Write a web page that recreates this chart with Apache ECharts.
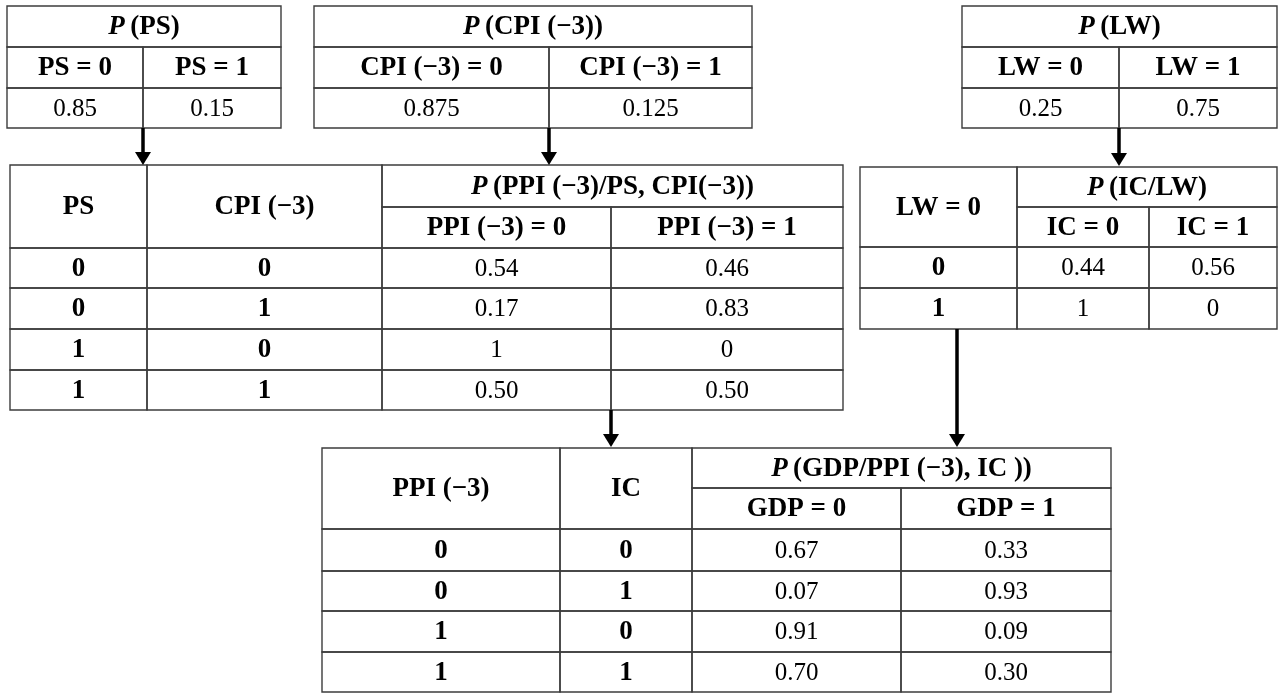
<!DOCTYPE html>
<html>
<head>
<meta charset="utf-8">
<style>
html,body{margin:0;padding:0;background:#fff;}
#chart{width:1280px;height:693px;}
</style>
<script src="https://cdn.jsdelivr.net/npm/echarts@6/dist/echarts.min.js"></script>
</head>
<body>
<div id="chart"></div>
<script>
// ---------------- DATA ----------------
const psTitle = 'PS';
const psHeader = ['PS = 0', 'PS = 1'];
const psProb = [0.85, 0.15];

const cpiTitle = 'CPI (\u22123)';
const cpiHeader = ['CPI (\u22123) = 0', 'CPI (\u22123) = 1'];
const cpiProb = [0.875, 0.125];

const lwTitle = 'LW';
const lwHeader = ['LW = 0', 'LW = 1'];
const lwProb = [0.25, 0.75];

const ppiParents = ['PS', 'CPI (\u22123)'];
const ppiTitle = 'PPI (\u22123)/PS, CPI(\u22123)';
const ppiHeader = ['PPI (\u22123) = 0', 'PPI (\u22123) = 1'];
const ppiPS = ['0', '0', '1', '1'];
const ppiCPI = ['0', '1', '0', '1'];
const ppiP0 = [0.54, 0.17, 1, 0.50];
const ppiP1 = [0.46, 0.83, 0, 0.50];

const icParents = ['LW = 0'];
const icTitle = 'IC/LW';
const icHeader = ['IC = 0', 'IC = 1'];
const icLW = ['0', '1'];
const icP0 = [0.44, 1];
const icP1 = [0.56, 0];

const gdpParents = ['PPI (\u22123)', 'IC'];
const gdpTitle = 'GDP/PPI (\u22123), IC )';
const gdpHeader = ['GDP = 0', 'GDP = 1'];
const gdpPPI = ['0', '0', '1', '1'];
const gdpIC = ['0', '1', '0', '1'];
const gdpP0 = [0.67, 0.07, 0.91, 0.70];
const gdpP1 = [0.33, 0.93, 0.09, 0.30];

// ---------------- LAYOUT ----------------
const layout = {
  ps:  { xs: [7, 143, 281],   ys: [6, 47, 88, 128] },
  cpi: { xs: [314, 549, 752], ys: [6, 47, 88, 128] },
  lw:  { xs: [962, 1119, 1277], ys: [6, 47, 88, 128] },
  ppi: { xs: [10, 147, 382, 611, 843], ys: [165, 207, 248, 288, 329, 370, 410] },
  ic:  { xs: [860, 1017, 1149, 1277], ys: [167, 207, 247, 288, 329] },
  gdp: { xs: [322, 560, 692, 901, 1111], ys: [448, 488, 529, 571, 611, 652, 692] }
};
const arrowsLayout = [
  [143, 128, 165], [549, 128, 165], [1119, 128, 166], [611, 410, 447], [957, 329, 447]
];

function fmt(v) {
  if (Number.isInteger(v)) return String(v);
  const c = v * 100;
  if (Math.abs(Math.round(c) - c) > 1e-9) return v.toFixed(3);
  return v.toFixed(2);
}

const cells = [];
function cell(x0, y0, x1, y1, t, k) { cells.push({ r: [x0, y0, x1, y1], t: t, k: k }); }

function priorTable(L, title, header, probs) {
  const xs = L.xs, ys = L.ys;
  cell(xs[0], ys[0], xs[2], ys[1], title, 'title');
  for (let i = 0; i < 2; i++) {
    cell(xs[i], ys[1], xs[i + 1], ys[2], header[i], 'bold');
    cell(xs[i], ys[2], xs[i + 1], ys[3], fmt(probs[i]), 'value');
  }
}
function condTable(L, parents, parentVals, title, header, p0, p1) {
  const xs = L.xs, ys = L.ys, np = parents.length;
  for (let j = 0; j < np; j++) cell(xs[j], ys[0], xs[j + 1], ys[2], parents[j], 'bold');
  cell(xs[np], ys[0], xs[np + 2], ys[1], title, 'title');
  cell(xs[np], ys[1], xs[np + 1], ys[2], header[0], 'bold');
  cell(xs[np + 1], ys[1], xs[np + 2], ys[2], header[1], 'bold');
  for (let r = 0; r < p0.length; r++) {
    for (let j = 0; j < np; j++) cell(xs[j], ys[r + 2], xs[j + 1], ys[r + 3], parentVals[j][r], 'bold');
    cell(xs[np], ys[r + 2], xs[np + 1], ys[r + 3], fmt(p0[r]), 'value');
    cell(xs[np + 1], ys[r + 2], xs[np + 2], ys[r + 3], fmt(p1[r]), 'value');
  }
}
priorTable(layout.ps, psTitle, psHeader, psProb);
priorTable(layout.cpi, cpiTitle, cpiHeader, cpiProb);
priorTable(layout.lw, lwTitle, lwHeader, lwProb);
condTable(layout.ppi, ppiParents, [ppiPS, ppiCPI], ppiTitle, ppiHeader, ppiP0, ppiP1);
condTable(layout.ic, icParents, [icLW], icTitle, icHeader, icP0, icP1);
condTable(layout.gdp, gdpParents, [gdpPPI, gdpIC], gdpTitle, gdpHeader, gdpP0, gdpP1);

const FONT = '"Liberation Serif", "Times New Roman", serif';
const FS_BOLD = 27;
const FS_VAL = 25;

const chart = echarts.init(document.getElementById('chart'), null, { renderer: 'canvas' });
chart.setOption({
  backgroundColor: '#ffffff',
  animation: false,
  grid: { left: 0, right: 0, top: 0, bottom: 0 },
  xAxis: { type: 'value', min: 0, max: 1280, show: false },
  yAxis: { type: 'value', min: 0, max: 693, inverse: true, show: false },
  series: [
    {
      type: 'custom',
      coordinateSystem: 'cartesian2d',
      data: cells.map(c => c.r),
      renderItem: function (params, api) {
        const c = cells[params.dataIndex];
        const p0 = api.coord([api.value(0), api.value(1)]);
        const p1 = api.coord([api.value(2), api.value(3)]);
        const cx = (p0[0] + p1[0]) / 2, cy = (p0[1] + p1[1]) / 2;
        let textStyle;
        if (c.k === 'title') {
          textStyle = {
            text: '{i|P}{b|\u2009(' + c.t + ')}',
            rich: {
              i: { fontFamily: FONT, fontSize: FS_BOLD, fontWeight: 'bold', fontStyle: 'italic', fill: '#000' },
              b: { fontFamily: FONT, fontSize: FS_BOLD, fontWeight: 'bold', fill: '#000' }
            }
          };
        } else {
          textStyle = {
            text: c.t,
            font: (c.k === 'bold' ? 'bold ' + FS_BOLD : FS_VAL) + 'px ' + FONT,
            fill: '#000'
          };
        }
        textStyle.x = cx; textStyle.y = cy + 1;
        textStyle.align = 'center'; textStyle.verticalAlign = 'middle';
        return {
          type: 'group',
          children: [
            {
              type: 'rect',
              shape: { x: p0[0], y: p0[1], width: p1[0] - p0[0], height: p1[1] - p0[1] },
              style: { fill: 'none', stroke: '#3c3c3c', lineWidth: 1.4 }
            },
            { type: 'text', style: textStyle }
          ]
        };
      }
    },
    {
      type: 'custom',
      coordinateSystem: 'cartesian2d',
      data: arrowsLayout,
      renderItem: function (params, api) {
        const a = api.coord([api.value(0), api.value(1)]);
        const b = api.coord([api.value(0), api.value(2)]);
        const head = 13, hw = 8;
        return {
          type: 'group',
          children: [
            {
              type: 'line',
              shape: { x1: a[0], y1: a[1], x2: b[0], y2: b[1] - head + 1 },
              style: { stroke: '#000', lineWidth: 3.5 }
            },
            {
              type: 'polygon',
              shape: { points: [[b[0] - hw, b[1] - head], [b[0] + hw, b[1] - head], [b[0], b[1]]] },
              style: { fill: '#000' }
            }
          ]
        };
      }
    }
  ]
});
</script>
</body>
</html>
